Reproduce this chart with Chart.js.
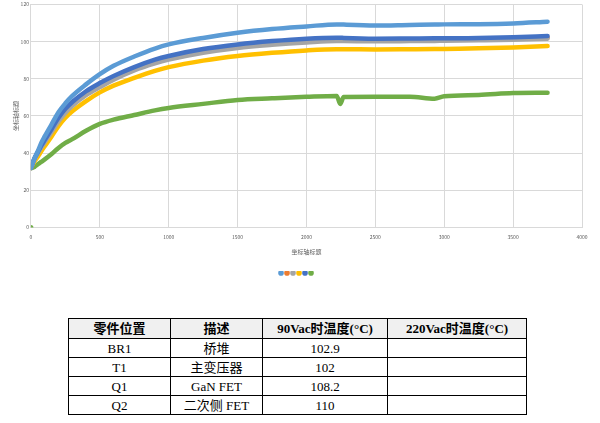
<!DOCTYPE html>
<html>
<head>
<meta charset="utf-8">
<script src="https://cdn.jsdelivr.net/npm/chart.js@4.4.1/dist/chart.umd.min.js"></script>
<style>
body{margin:0;background:#fff;width:600px;height:423px;position:relative;overflow:hidden;}
#wrap{position:absolute;left:0;top:0;width:600px;height:290px;}
table{position:absolute;left:68px;top:318px;border-collapse:collapse;font-family:"Liberation Serif","Noto Sans CJK SC",serif;font-size:13px;color:#000;}
td,th{border:1px solid #000;text-align:center;padding:0;height:18px;line-height:17px;}
th{background:#f0f0f0;font-weight:bold;height:19px;}
</style>
</head>
<body>
<div id="wrap"><canvas id="c" width="600" height="290"></canvas></div>
<table id="tbl">
<tr><th style="width:101px">零件位置</th><th style="width:91px">描述</th><th style="width:124px">90Vac时温度(°C)</th><th style="width:138px">220Vac时温度(°C)</th></tr>
</table>
<script>
// ===== DATA =====
const time=[0,10,25,50,75,100,150,200,250,300,400,500,600,750,900,1000,1250,1500,1750,2000,2220,2245,2270,2500,2750,2930,3000,3250,3500,3750];
const lightBlue=[32,34,37,41,45.5,49,55.5,62,66.8,70.8,77,82.5,87,92,96.3,98.5,102,104.8,106.8,108.2,109.3,109.3,109.2,108.7,109,109.2,109.3,109.4,109.8,110.7];
const orange=[32,33.9,36.7,40.2,43.5,46.5,52.2,58,62.8,66.3,72.2,76.6,80.5,85.4,89.3,91.3,95,97.5,99.3,100.6,101.2,101.2,101.1,100.9,101,101.1,101.1,101.3,101.7,102.3];
const gray=[32,33.8,36.5,40,43,46,51.5,57,61.7,65.5,71.2,75.5,79.5,84.5,88.3,90.3,94,96.6,98.3,99.6,100.4,100.4,100.3,100.2,100.3,100.4,100.5,100.7,101,101.6];
const yellow=[32,33.5,35.5,38,41,43.7,49,54.5,59,62.5,68,72.7,76.3,80.5,84.3,86.3,89.8,92.3,94,95.3,95.9,95.9,95.9,95.8,95.9,96,96.1,96.4,96.9,97.6];
const darkBlue=[32,34,37,40.5,44,47,53,59,63.8,67.5,73.3,77.7,81.5,86.3,90.3,92.3,96,98.5,100.3,101.6,102.1,102.1,102,101.6,101.7,101.8,101.8,102,102.4,103];
const green=[32,32,32.5,34,35.3,36.6,39.5,42.8,45.5,47.5,52,55.7,58,60.5,63,64.3,66.5,68.6,69.5,70.3,70.8,66.5,70.2,70.3,70.4,69.3,70.6,71.3,72.3,72.5];
const greenFirst=0; // lone point at t=0
const xTicks=[0,500,1000,1500,2000,2500,3000,3500,4000];
const yTicks=[0,20,40,60,80,100,120];
const seriesNames=['','','','','',''];
const axisTitle='坐标轴标题';

const rows=[
  ['BR1','桥堆','102.9',''],
  ['T1','主变压器','102',''],
  ['Q1','GaN FET','108.2',''],
  ['Q2','二次侧 FET','110','']
];

// ===== TABLE =====
const tbl=document.getElementById('tbl');
rows.forEach(r=>{const tr=document.createElement('tr');r.forEach(v=>{const td=document.createElement('td');td.textContent=v;tr.appendChild(td);});tbl.appendChild(tr);});

// ===== CHART =====
function pts(vals){return time.map((t,i)=>({x:t,y:vals[i]}));}
const greenPts=[{x:0,y:greenFirst},{x:0,y:null}].concat(pts(green));

const colors=['#5B9BD5','#ED7D31','#A5A5A5','#FFC000','#4472C4','#70AD47'];
const all=[lightBlue,orange,gray,yellow,darkBlue,null];
const order=[1,5,3,4,2,6];
const datasets=all.map((v,i)=>({
  label:seriesNames[i],
  data:v?pts(v):greenPts,
  borderColor:colors[i],backgroundColor:colors[i],
  borderWidth:4.5,borderCapStyle:'round',borderJoinStyle:'round',
  pointRadius:v?0:(c=>c.dataIndex===0?2.5:0),
  pointBorderWidth:0,
  cubicInterpolationMode:'monotone',spanGaps:false,order:order[i]
}));

const tickFont={family:'"Noto Sans CJK SC", "DejaVu Sans", sans-serif',size:5,lineHeight:1};
const titleFont={family:'"Noto Sans CJK SC", sans-serif',size:6,lineHeight:1.1};
new Chart(document.getElementById('c'),{
  type:'line',
  data:{datasets},
  options:{
    responsive:false,animation:false,
    layout:{padding:{top:0,right:18,left:12,bottom:5}},
    plugins:{
      legend:{position:'bottom',labels:{usePointStyle:true,pointStyle:'circle',boxWidth:4,boxHeight:4,padding:0,font:{size:4},
        sort:(a,b)=>a.datasetIndex-b.datasetIndex}},
      tooltip:{enabled:false}
    },
    scales:{
      x:{type:'linear',min:0,max:4000,
        afterBuildTicks:a=>{a.ticks=xTicks.map(v=>({value:v}));},
        grid:{color:'#d9d9d9',drawTicks:false},border:{color:'#d9d9d9'},
        ticks:{font:tickFont,color:'#595959',padding:7,maxRotation:0,callback:v=>String(v)},
        title:{display:true,text:axisTitle,font:titleFont,color:'#595959',padding:{top:2,bottom:16}}},
      y:{min:0,max:120,
        afterBuildTicks:a=>{a.ticks=yTicks.map(v=>({value:v}));},
        grid:{color:'#d9d9d9',drawTicks:false},border:{color:'#d9d9d9'},
        ticks:{font:tickFont,color:'#595959',padding:2,callback:v=>String(v)},
        title:{display:true,text:axisTitle,font:titleFont,color:'#595959',padding:{top:0,bottom:0}}}
    }
  }
});
</script>
</body>
</html>
